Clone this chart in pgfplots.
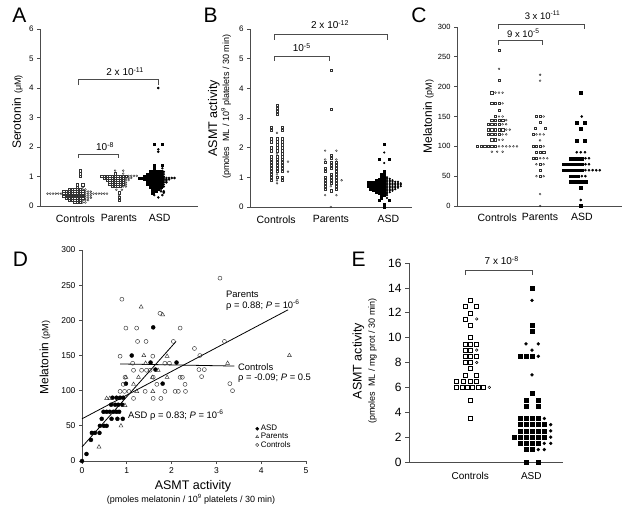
\documentclass[border=0pt]{standalone}
\usepackage{pgfplots}
\pgfplotsset{compat=1.18}
\usepackage{fontspec}
\setmainfont{Liberation Sans}
\newcommand{\fs}[1]{\fontsize{#1}{#1}\selectfont}
\definecolor{axc}{gray}{0.3}
\definecolor{mkc}{gray}{0.2}
\pgfplotsset{
  base/.style={scale only axis, anchor=south west, clip=false,
    axis x line*=bottom, axis y line*=left,
    axis line style={-, axc, line width=0.75pt},
    tick style={axc, line width=0.75pt},
    tick align=outside, major tick length=3pt,
    /pgf/number format/assume math mode=true,
    yticklabel style={font=\fs{8}}},
  dot/.style={base, major x tick style={draw=none}, xticklabel style={font=\fs{10.5}, yshift=-2pt}},
  osq/.style={only marks, mark=square, mark size=1.15pt, mark options={draw=mkc, line width=0.4pt}},
  oci/.style={only marks, mark=o, mark size=0.95pt, mark options={draw=mkc, line width=0.4pt}},
  fsq/.style={only marks, mark=square*, mark size=1.2pt, mark options={draw=none, fill=black}},
  fci/.style={only marks, mark=*, mark size=1.05pt, mark options={draw=none, fill=black}},
}
\tikzset{brk/.style={axc, line width=0.8pt}}
\begin{document}
\begin{tikzpicture}
\path[use as bounding box] (0,0) rectangle (628pt,507pt);

% ---------------- A ----------------
\begin{axis}[dot, at={(40pt,301pt)}, width=158pt, height=177pt,
  xmin=-14.8, xmax=43.7, ymin=0, ymax=6, ytick={0,1,...,6},
  xtick={-1.7,14.4,29.5}, xticklabels={Controls,Parents,ASD}]
\addplot[osq] coordinates {(0,1.2)(0,1.1)(0,1.0)(-1,0.72)(1,0.72)(-1,0.64)
(-4,0.56)(-3,0.56)(-2,0.56)(-1,0.56)(0,0.56)
(-6,0.49)(-5,0.49)(-4,0.49)(-3,0.49)(-2,0.49)(-1,0.49)(0,0.49)(1,0.49)
(-6,0.42)(-5,0.42)(-4,0.42)(-3,0.42)(-2,0.42)(-1,0.42)(0,0.42)(1,0.42)
(-6,0.35)(-5,0.35)(-4,0.35)(-3,0.35)(-2,0.35)(-1,0.35)(0,0.35)(1,0.35)
(-5,0.28)(-4,0.28)(-3,0.28)(-2,0.28)(-1,0.28)(0,0.28)(1,0.28)
(-4,0.2)(-3,0.2)(-2,0.2)(-1,0.2)(0,0.2)
(-2,0.12)(-1,0.12)(0,0.12)};
\addplot[oci] coordinates {(1,0.64)(1,0.56)(2,0.56)(2,0.49)(3,0.49)(4,0.49)
(-12,0.42)(-11,0.42)(-10,0.42)(-9,0.42)(-8,0.42)(-7,0.42)
(2,0.42)(3,0.42)(4,0.42)(5,0.42)(6,0.42)(7,0.42)(8,0.42)(9,0.42)(10,0.42)
(2,0.35)(3,0.35)(4,0.35)(2,0.28)(3,0.28)(4,0.28)(1,0.2)(2,0.2)(3,0.2)(1,0.12)(2,0.12)};
\addplot[osq] coordinates {(13,1.1)
(8,1.02)(9,1.02)(10,1.02)(11,1.02)(12,1.02)(13,1.02)(14,1.02)(15,1.02)(16,1.02)(17,1.02)
(9,0.95)(10,0.95)(11,0.95)(12,0.95)(13,0.95)(14,0.95)(15,0.95)(16,0.95)
(10,0.88)(11,0.88)(12,0.88)(13,0.88)(14,0.88)(15,0.88)(16,0.88)
(11,0.8)(12,0.8)(13,0.8)(14,0.8)(15,0.8)(16,0.8)
(11,0.73)(12,0.73)(13,0.73)(14,0.73)(15,0.73)(16,0.73)
(12,0.66)(13,0.66)(14,0.66)(15,0.66)
(14.5,0.45)(14.5,0.3)(14.5,0.2)};
\addplot[oci] coordinates {(13,1.2)(16,1.2)(16,1.1)(18,1.02)(19,1.02)(20,1.02)(21,1.02)
(17,0.95)(18,0.95)(19,0.95)(17,0.88)(18,0.88)(17,0.8)(17,0.73)(16,0.66)(17,0.66)
(13.5,0.55)(15.5,0.55)(14.5,0.37)};
\addplot[fsq] coordinates {(27.5,2.1)(30.5,2.1)(27.5,1.39)(30.5,1.39)(27.5,1.28)
(26,1.16)(27,1.16)(28,1.16)(29,1.16)(30,1.16)
(25,1.08)(26,1.08)(27,1.08)(28,1.08)(29,1.08)(30,1.08)
(24,1.0)(25,1.0)(26,1.0)(27,1.0)(28,1.0)(29,1.0)(30,1.0)
(22,0.95)(23,0.95)(24,0.95)(25,0.95)(26,0.95)(27,0.95)(28,0.95)(29,0.95)(30,0.95)
(24,0.9)(25,0.9)(26,0.9)(27,0.9)(28,0.9)(29,0.9)(30,0.9)
(25,0.85)(26,0.85)(27,0.85)(28,0.85)(29,0.85)(30,0.85)
(25,0.8)(26,0.8)(27,0.8)(28,0.8)(29,0.8)(30,0.8)
(25,0.73)(26,0.73)(27,0.73)(28,0.73)(29,0.73)(30,0.73)
(26,0.66)(27,0.66)(28,0.66)(29,0.66)(30,0.66)
(27,0.58)(28,0.58)(29,0.58)(27,0.5)(28,0.5)(27,0.45)};
\addplot[fci] coordinates {(29,4.0)(29,1.92)(29,1.84)(30.5,1.28)(31,1.16)(31,1.08)(31,1.0)
(31,0.95)(32,0.95)(33,0.95)(34,0.95)(35,0.95)(31,0.9)(32,0.9)(33,0.9)(31,0.85)(32,0.85)
(31,0.8)(32,0.8)(31,0.73)(31,0.66)(30,0.58)(30,0.5)(31,0.5)(31,0.45)
(27.5,0.37)(30.5,0.37)(29,0.29)};
\draw[brk] (axis cs:-0.5,1.62) -- (axis cs:-0.5,1.76) -- (axis cs:14.4,1.76) -- (axis cs:14.4,1.62);
\node[font=\fs{10}] at (axis cs:9.3,2.01) {10\textsuperscript{-8}};
\draw[brk] (axis cs:-0.5,4.1) -- (axis cs:-0.5,4.29) -- (axis cs:29.2,4.29) -- (axis cs:29.2,4.1);
\node[font=\fs{10}] at (axis cs:16.7,4.55) {2 x 10\textsuperscript{-11}};
\end{axis}

% ---------------- B ----------------
\begin{axis}[dot, at={(250pt,300pt)}, width=162pt, height=178pt,
  xmin=-9.82, xmax=49.1, ymin=0, ymax=6, ytick={0,1,...,6},
  xtick={-0.3,19.6,40.5}, xticklabels={Controls,Parents,ASD}]
\addplot[osq] coordinates {(0,3.42)(0,3.32)(0,3.22)(0,3.12)
(-2,2.7)(-2,2.6)(-2,2.3)(-2,2.2)(-2,2.0)(-2,1.9)(-2,1.7)(-2,1.6)(-2,1.5)(-2,1.4)(-2,1.3)(-2,1.2)(-2,1.1)(-2,1.0)(-2,0.9)
(0,2.3)(0,2.2)(0,2.1)(0,2.0)(0,1.9)(0,1.7)(0,1.6)(0,1.5)(0,1.4)(0,1.3)(0,1.2)(0,1.0)
(2,2.7)(2,2.6)(2,2.3)(2,2.2)(2,2.1)(2,2.0)(2,1.9)(2,1.8)(2,1.7)(2,1.6)(2,1.5)(2,1.4)(2,1.3)(2,1.2)(2,1.0)(2,0.9)};
\addplot[oci] coordinates {(0,2.5)(0,1.8)(0,1.1)(0,0.9)(0,0.8)(4,1.53)(4,1.19)};
\addplot[osq] coordinates {(19.6,4.6)(19.6,3.3)
(17.5,1.5)(17.5,1.3)(17.5,1.2)(17.5,1.0)(17.5,0.9)(17.5,0.8)(17.5,0.7)(17.5,0.6)
(19.6,1.75)(19.6,1.65)(19.6,1.5)(19.6,1.4)(19.6,1.3)(19.6,1.1)(19.6,1.0)(19.6,0.9)(19.6,0.8)(19.6,0.55)
(21.6,1.5)(21.6,1.4)(21.6,1.3)(21.6,1.2)(21.6,1.1)(21.6,1.0)(21.6,0.9)(21.6,0.8)(21.6,0.7)(21.6,0.6)};
\addplot[oci] coordinates {(17.5,1.9)(17.5,1.6)(17.5,0.4)(21.6,1.9)(21.6,1.6)(21.6,0.4)(19.6,0.7)(19.6,0)(23.5,0.9)};
\addplot[fsq, mark size=0.95pt] coordinates {(39,2.13)(37.2,1.61)(40.8,1.61)
(39,1.2)(38,1.1)(39,1.1)(38,1.0)(39,1.0)
(37,0.95)(38,0.95)(39,0.95)(36,0.9)(37,0.9)(38,0.9)(39,0.9)
(33,0.85)(34,0.85)(35,0.85)(36,0.85)(37,0.85)(38,0.85)(39,0.85)
(33,0.8)(34,0.8)(35,0.8)(36,0.8)(37,0.8)(38,0.8)(39,0.8)
(33,0.75)(34,0.75)(35,0.75)(36,0.75)(37,0.75)(38,0.75)(39,0.75)
(33,0.7)(34,0.7)(35,0.7)(36,0.7)(37,0.7)(38,0.7)(39,0.7)
(34,0.65)(35,0.65)(36,0.65)(37,0.65)(38,0.65)(39,0.65)
(34,0.6)(35,0.6)(36,0.6)(37,0.6)(38,0.6)(39,0.6)
(35,0.55)(36,0.55)(37,0.55)(38,0.55)(39,0.55)
(36,0.5)(37,0.5)(38,0.5)(39,0.5)
(37,0.45)(38,0.45)(39,0.45)(38,0.4)(39,0.4)(38,0.3)
(37.2,0.24)(40.8,0.24)(39,0.1)(39,0)};
\addplot[fci, mark size=0.85pt] coordinates {(39,1.84)(39,1.48)(40,1.0)(40,0.95)(41,0.95)
(40,0.9)(41,0.9)(42,0.9)
(40,0.85)(41,0.85)(42,0.85)(43,0.85)(44,0.85)
(40,0.8)(41,0.8)(42,0.8)(43,0.8)(44,0.8)(45,0.8)
(40,0.75)(41,0.75)(42,0.75)(43,0.75)(44,0.75)(45,0.75)
(40,0.7)(41,0.7)(42,0.7)(43,0.7)(44,0.7)(45,0.7)
(40,0.65)(41,0.65)(42,0.65)(43,0.65)(44,0.65)
(40,0.6)(41,0.6)(42,0.6)(43,0.6)
(40,0.55)(41,0.55)(42,0.55)(40,0.5)(41,0.5)(40,0.45)(40,0.4)(40,0.3)};
\draw[brk] (axis cs:-1.1,4.93) -- (axis cs:-1.1,5.09) -- (axis cs:19,5.09) -- (axis cs:19,4.93);
\node[font=\fs{10}] at (axis cs:9,5.37) {10\textsuperscript{-5}};
\draw[brk] (axis cs:-1.1,5.63) -- (axis cs:-1.1,5.82) -- (axis cs:40.3,5.82) -- (axis cs:40.3,5.63);
\node[font=\fs{10}] at (axis cs:19.3,6.15) {2 x 10\textsuperscript{-12}};
\end{axis}

% ---------------- C ----------------
\begin{axis}[dot, at={(457pt,301pt)}, width=165pt, height=179pt,
  xmin=-11.67, xmax=34.17, ymin=0, ymax=300, ytick={0,50,...,300},
  xtick={-0.5,11.4,23}, xticklabels={Controls,Parents,ASD},
  yticklabel style={font=\fs{7.5}}, xticklabel style={yshift=1pt}]
\addplot[osq] coordinates {(0,261)(0,211)(-2,190)(-2,172)(-1,172)(0,172)(0,161)(-1,150)
(-2,144)(-1,144)(0,144)(1,144)
(-3,137)(-2,137)(-1,137)(0,137)
(-3,128)(-2,128)(-1,128)(0,128)(1,128)
(-3,120)(-2,120)(-1,120)(0,120)
(-2,111)(-1,111)
(-6,100)(-5,100)(-4,100)(-3,100)(-2,100)(-1,100)};
\addplot[oci] coordinates {(0,230)(-1,190)(0,190)(1,190)(1,172)(0,150)(1,150)(2,144)(1,137)(2,137)
(2,128)(3,128)(1,120)(2,120)(0,111)(1,111)(0,100)(1,100)(2,100)(3,100)(4,100)(5,100)
(-2,91)(-0.5,91)(1,91)};
\addplot[osq] coordinates {(10.4,150)(11.4,150)(11.4,140)(10,130)(12.8,130)(9.4,120)
(9.4,100)(10.4,100)(11.4,100)(10.4,90)(11.4,90)(12.4,90)(9.4,80)(10.4,80)(11.4,70)(11.4,60)(11.4,50)};
\addplot[oci] coordinates {(11.4,220)(11.4,210)(12.4,150)(10.4,120)(11.4,120)(12.4,120)(11.4,110)
(12.4,100)(11.4,80)(12.4,80)(13.4,80)(10.4,70)(12.4,70)(10.4,50)(12.4,50)(11.4,20)(11.4,0)};
\addplot[fsq, mark size=1.45pt] coordinates {(22.7,190)(21.6,140)(23.9,140)(22.7,130)(21.6,110)(23.9,110)
(20,80)(21,80)(22,80)(23,80)
(18,70)(19,70)(20,70)(21,70)(22,70)(23,70)
(18,60)(19,60)(20,60)(21,60)(22,60)(23,60)
(20,50)(21,50)(22,50)
(20,40)(21,40)(22,40)(23,40)(24,40)
(22.7,30)(22.7,0)};
\addplot[fci, mark size=1.1pt] coordinates {(23,150)(21.6,90)(22.7,90)(23.9,90)(24,80)(25,80)(24,70)(25,70)
(24,60)(25,60)(26,60)(27,60)(28,60)(23,50)(24,50)(22.7,10)};
\draw[brk] (axis cs:-0.2,270) -- (axis cs:-0.2,278) -- (axis cs:12.1,278) -- (axis cs:12.1,270);
\node[font=\fs{9.5}] at (axis cs:6.75,290) {9 x 10\textsuperscript{-5}};
\draw[brk] (axis cs:-0.2,297) -- (axis cs:-0.2,305) -- (axis cs:23.6,305) -- (axis cs:23.6,297);
\node[font=\fs{9.5}] at (axis cs:12.1,319.5) {3 x 10\textsuperscript{-11}};
\end{axis}

% ---------------- D ----------------
\begin{axis}[base, at={(82pt,46pt)}, width=224pt, height=211pt,
  xmin=0, xmax=5, ymin=0, ymax=300, xtick={0,1,...,5}, ytick={0,50,...,300},
  xticklabel style={font=\fs{8.5}}, yticklabel style={font=\fs{8.5}},
  legend style={draw=none, fill=none, at={(axis cs:3.87,54)}, anchor=north west,
    font=\fs{8}, row sep=-3pt, inner sep=0pt, cells={anchor=west}},
  legend image code/.code={\draw[#1] plot[mark size=1.6pt] coordinates {(0pt,0pt)};}]
\addplot[only marks, mark=*, mark size=2pt, mark options={draw=none, fill=black}] coordinates {
(0,0)(0.1,10)(0.2,30)(0.22,40)(0.29,40)(0.39,40)(0.4,50)(0.49,50)(0.55,50)(0.44,60)(0.66,60)
(0.79,60)(0.91,60)(0.48,70)(0.55,70)(0.62,70)(0.7,70)(0.77,70)(0.83,70)(0.65,80)(0.74,80)
(0.81,80)(0.9,80)(0.68,90)(0.77,90)(0.85,90)(0.92,90)(0.98,110)(1.11,150)(1.59,190)(1.53,140)
(1.64,130)(2.11,140)(1.8,110)};
\addlegendentry{ASD}
\addplot[only marks, mark=triangle, mark size=2.3pt, mark options={draw=mkc, line width=0.45pt}] coordinates {
(1.32,219)(1.8,208)(1.38,150)(1.9,149)(1.42,139)(0.98,119)(1.26,119)(1.57,119)(1.9,119)(1.7,129)
(1.15,109)(1.22,99)(1.58,99)(0.55,89)(0.87,50)(0.38,20)(0.96,79)(3.25,139)(4.63,150)(0.62,89)};
\addlegendentry{Parents}
\addplot[only marks, mark=o, mark size=2pt, mark options={draw=mkc, line width=0.45pt}] coordinates {
(0.89,230)(0.98,189)(1.22,189)(1.74,210)(1.24,170)(1.43,170)(2.19,189)(2.04,170)(3.08,260)(2.51,160)
(3.18,170)(0.85,149)(1.58,149)(2.63,150)(3.3,110)(3.36,100)(2.61,130)(2.73,130)(2.67,120)(1.13,139)
(1.15,129)(1.33,129)(1.44,129)(1.52,129)(0.85,99)(0.95,99)(1.05,99)(0.92,109)(1.41,99)(1.59,89)
(1.76,89)(1.85,99)(2.08,99)(2.15,99)(2.31,99)(2.3,109)(2.19,119)(2.24,119)(1.67,109)(1.95,139)
(1.85,139)(1.15,89)(1.59,119)(0.96,119)};
\addlegendentry{Controls}
\addplot[black, line width=0.8pt, forget plot] coordinates {(0,20)(2.1,170)};
\addplot[black, line width=0.8pt, forget plot] coordinates {(0,60)(4.6,215)};
\addplot[black, line width=0.8pt, forget plot] coordinates {(0.85,138)(3.4,135)};
\end{axis}

% ---------------- E ----------------
\begin{axis}[dot, at={(409pt,45pt)}, width=154pt, height=199pt,
  xmin=409, xmax=563, ymin=0, ymax=16, ytick={0,2,...,16},
  xtick={470.2,531.3}, xticklabels={Controls,ASD},
  yticklabel style={font=\fs{12}}, xticklabel style={font=\fs{10}, yshift=-1pt},
  major tick length=4pt]
\addplot[osq, mark size=2pt, mark options={line width=0.5pt}] coordinates {
(470.7,13)(465,12.5)(476.7,12.5)(470.7,12)(465,11.5)(470.7,11)(470.7,10)
(465,9.5)(470.7,9.5)(476.7,9.5)(465,9)(470.7,9)(465,8.5)(470.7,8.5)(476.7,8.5)
(465,8)(470.7,8)(470.7,7.5)(465,7)(476.7,7)
(456.7,6.5)(463.3,6.5)(470.7,6.5)(476.7,6.5)
(456.7,6)(462,6)(467.3,6)(472.7,6)(478,6)(483.3,6)
(470.7,5)(470.7,3.5)};
\addplot[oci, mark size=1.3pt, mark options={line width=0.5pt}] coordinates {(476.7,11.5)(476.7,9)(476.7,8)(489.3,6)};
\addplot[fsq, mark size=2pt] coordinates {(532,14)(532,11)(532,10.5)(520,8.5)(526,8.5)(532,8.5)
(532,5.5)(526,5)(538.3,5)(526,4.5)(538.3,4.5)
(520,3.5)(526,3.5)(532,3.5)(538.3,3.5)
(520,3)(526,3)(532,3)(538.3,3)(544.3,3)
(520,2.5)(526,2.5)(532,2.5)(538.3,2.5)(544.3,2.5)
(514,2)(520,2)(526,2)(532,2)(538.3,2)(544.3,2)
(520,1.5)(526,1.5)(532,1.5)(538.3,1.5)
(526,1)(532,1)(526,0)(538.3,0)};
\addplot[fci, mark size=1.5pt] coordinates {(532,13)(526,9.5)(538.3,9.5)(532,9)(538.3,8.5)(532,7)
(544.3,3.5)(550.7,3)(550.7,2.5)(550.7,2)(544.3,1.5)(550.7,1.5)(538.3,1)(544.3,1)};
\draw[brk] (axis cs:465,15.03) -- (axis cs:465,15.43) -- (axis cs:532.7,15.43) -- (axis cs:532.7,15.03);
\node[font=\fs{10}] at (axis cs:501.7,16.18) {7 x 10\textsuperscript{-8}};
\end{axis}

% ---------------- text ----------------
\begin{scope}[x=1pt,y=-1pt,shift={(0pt,507pt)}]
\node[font=\fs{21}, inner sep=0pt] at (19.5,15.5) {A};
\node[font=\fs{21}, inner sep=0pt] at (210.5,15) {B};
\node[font=\fs{21}, inner sep=0pt] at (419,15) {C};
\node[font=\fs{21}, inner sep=0pt] at (20.5,259.5) {D};
\node[font=\fs{21}, inner sep=0pt] at (358.5,259.5) {E};
\node[rotate=90, inner sep=0pt] at (17.5,112) {\fs{12}Serotonin \fs{9}(μM)};
\node[rotate=90, inner sep=0pt, font=\fs{12.5}] at (214,118.3) {ASMT activity};
\node[rotate=90, inner sep=0pt, font=\fs{9}] at (226,106.7) {(pmoles\ \ ML / 10\textsuperscript{9} platelets / 30 min)};
\node[rotate=90, inner sep=0pt] at (428.5,116.7) {\fs{12}Melatonin \fs{9}(pM)};
\node[rotate=90, inner sep=0pt] at (45,357.5) {\fs{12}Melatonin \fs{9}(pM)};
\node[font=\fs{12.5}, inner sep=0pt] at (193,486) {ASMT activity};
\node[font=\fs{9}, inner sep=0pt] at (191,499) {(pmoles melatonin / 10\textsuperscript{9} platelets / 30 min)};
\node[rotate=90, inner sep=0pt, font=\fs{12.5}] at (358.5,361) {ASMT activity};
\node[rotate=90, inner sep=0pt, font=\fs{9}] at (372.5,361) {(pmoles\ \ ML / mg prot / 30 min)};
\node[anchor=west, font=\fs{9.4}, inner sep=0pt] at (226,294) {Parents};
\node[anchor=west, font=\fs{9.4}, inner sep=0pt] at (226,305) {ρ = 0.88; \textit{P} = 10\textsuperscript{-6}};
\node[anchor=west, font=\fs{9.4}, inner sep=0pt] at (238,367) {Controls};
\node[anchor=west, font=\fs{9.4}, inner sep=0pt] at (238,378) {ρ = -0.09; \textit{P} = 0.5};
\node[anchor=west, font=\fs{9.4}, inner sep=0pt] at (128,415) {ASD ρ = 0.83; \textit{P} = 10\textsuperscript{-6}};
\end{scope}
\end{tikzpicture}
\end{document}
